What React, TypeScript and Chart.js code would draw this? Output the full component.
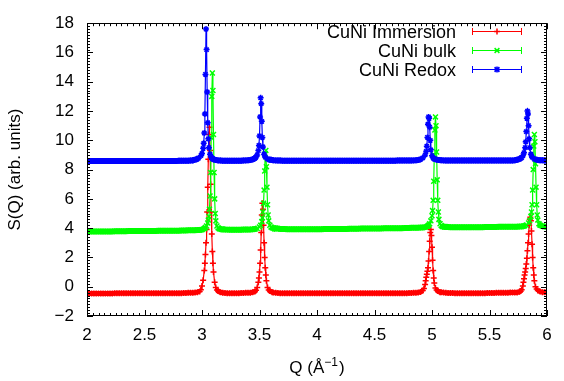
import React, { useEffect, useRef } from "react";
import { Chart, registerables } from "chart.js";

Chart.register(...registerables);

// ---------------- DATA ----------------
const SERIES_NAMES = ["CuNi Immersion", "CuNi bulk", "CuNi Redox"];
const X_TICKS = [2, 2.5, 3, 3.5, 4, 4.5, 5, 5.5, 6];
const Y_TICKS = [-2, 0, 2, 4, 6, 8, 10, 12, 14, 16, 18];

// Q sampling grid of the flat background (Å^-1)
const Q_BASE = [
  2.00, 2.02, 2.04, 2.06, 2.08, 2.10, 2.12, 2.14, 2.16, 2.18,
  2.20, 2.22, 2.24, 2.26, 2.28, 2.30, 2.32, 2.34, 2.36, 2.38,
  2.40, 2.42, 2.44, 2.46, 2.48, 2.50, 2.52, 2.54, 2.56, 2.58,
  2.60, 2.62, 2.64, 2.66, 2.68, 2.70, 2.72, 2.74, 2.76, 2.78,
  2.80, 2.82, 2.84, 2.86, 2.88, 2.90, 2.92, 2.94, 2.96, 2.98,
  3.00, 3.02, 3.04, 3.06, 3.08, 3.10, 3.12, 3.14, 3.16, 3.18,
  3.20, 3.22, 3.24, 3.26, 3.28, 3.30, 3.32, 3.34, 3.36, 3.38,
  3.40, 3.42, 3.44, 3.46, 3.48, 3.50, 3.52, 3.54, 3.56, 3.58,
  3.60, 3.62, 3.64, 3.66, 3.68, 3.70, 3.72, 3.74, 3.76, 3.78,
  3.80, 3.82, 3.84, 3.86, 3.88, 3.90, 3.92, 3.94, 3.96, 3.98,
  4.00, 4.02, 4.04, 4.06, 4.08, 4.10, 4.12, 4.14, 4.16, 4.18,
  4.20, 4.22, 4.24, 4.26, 4.28, 4.30, 4.32, 4.34, 4.36, 4.38,
  4.40, 4.42, 4.44, 4.46, 4.48, 4.50, 4.52, 4.54, 4.56, 4.58,
  4.60, 4.62, 4.64, 4.66, 4.68, 4.70, 4.72, 4.74, 4.76, 4.78,
  4.80, 4.82, 4.84, 4.86, 4.88, 4.90, 4.92, 4.94, 4.96, 4.98,
  5.00, 5.02, 5.04, 5.06, 5.08, 5.10, 5.12, 5.14, 5.16, 5.18,
  5.20, 5.22, 5.24, 5.26, 5.28, 5.30, 5.32, 5.34, 5.36, 5.38,
  5.40, 5.42, 5.44, 5.46, 5.48, 5.50, 5.52, 5.54, 5.56, 5.58,
  5.60, 5.62, 5.64, 5.66, 5.68, 5.70, 5.72, 5.74, 5.76, 5.78,
  5.80, 5.82, 5.84, 5.86, 5.88, 5.90, 5.92, 5.94, 5.96, 5.98,
  6.00,
];

// Background S(Q) of each sample on Q_BASE (points inside a peak window are replaced by the peak lists)
const IMMERSION_BASE = [
  -0.46, -0.46, -0.46, -0.46, -0.46, -0.46, -0.46, -0.46, -0.46, -0.46,
  -0.46, -0.46, -0.45, -0.45, -0.45, -0.45, -0.45, -0.45, -0.45, -0.45,
  -0.45, -0.45, -0.45, -0.45, -0.45, -0.45, -0.45, -0.45, -0.45, -0.45,
  -0.45, -0.45, -0.45, -0.45, -0.45, -0.45, -0.44, -0.44, -0.44, -0.44,
  -0.44, -0.44, -0.43, -0.43, -0.42, -0.42, -0.41, -0.40, -0.37, -0.32,
  0.05, 1.1, 3.9, 10.4, 5.1, 1.0, -0.05, -0.3, -0.38, -0.42,
  -0.43, -0.44, -0.44, -0.44, -0.44, -0.44, -0.44, -0.43, -0.43, -0.42,
  -0.42, -0.41, -0.38, -0.32, -0.05, 1.0, 4.9, 3.0, 0.4, -0.22,
  -0.35, -0.40, -0.42, -0.43, -0.44, -0.44, -0.44, -0.45, -0.45, -0.45,
  -0.45, -0.45, -0.45, -0.45, -0.45, -0.45, -0.45, -0.45, -0.45, -0.45,
  -0.45, -0.45, -0.45, -0.45, -0.45, -0.45, -0.45, -0.45, -0.45, -0.45,
  -0.45, -0.45, -0.45, -0.45, -0.45, -0.45, -0.45, -0.45, -0.45, -0.45,
  -0.45, -0.45, -0.45, -0.45, -0.45, -0.45, -0.45, -0.45, -0.45, -0.45,
  -0.45, -0.45, -0.45, -0.45, -0.45, -0.44, -0.44, -0.44, -0.44, -0.44,
  -0.43, -0.43, -0.42, -0.42, -0.40, -0.36, -0.26, 0.15, 1.05, 3.1,
  2.7, 0.25, -0.22, -0.33, -0.37, -0.40, -0.42, -0.43, -0.43, -0.43,
  -0.44, -0.44, -0.44, -0.44, -0.44, -0.44, -0.44, -0.44, -0.44, -0.44,
  -0.44, -0.44, -0.44, -0.44, -0.43, -0.43, -0.43, -0.43, -0.42, -0.42,
  -0.42, -0.42, -0.41, -0.41, -0.40, -0.40, -0.39, -0.39, -0.35, -0.2,
  0.55, 1.55, 3.6, 4.5, 1.3, 0.0, -0.25, -0.33, -0.37, -0.38,
  -0.38,
];

const BULK_BASE = [
  3.77, 3.77, 3.77, 3.78, 3.78, 3.78, 3.78, 3.78, 3.78, 3.78,
  3.78, 3.78, 3.79, 3.79, 3.79, 3.79, 3.79, 3.79, 3.80, 3.80,
  3.80, 3.80, 3.80, 3.80, 3.80, 3.81, 3.81, 3.81, 3.81, 3.81,
  3.81, 3.82, 3.82, 3.82, 3.82, 3.82, 3.83, 3.83, 3.83, 3.83,
  3.83, 3.84, 3.84, 3.84, 3.85, 3.85, 3.86, 3.86, 3.87, 3.87,
  3.90, 3.98, 4.15, 4.8, 10.2, 10.4, 4.5, 4.02, 3.95, 3.93,
  3.91, 3.90, 3.89, 3.89, 3.89, 3.89, 3.89, 3.89, 3.90, 3.90,
  3.90, 3.91, 3.92, 3.94, 3.98, 4.08, 4.45, 6.6, 8.2, 4.5,
  4.08, 4.04, 4.0, 3.97, 3.95, 3.94, 3.94, 3.93, 3.93, 3.93,
  3.93, 3.93, 3.93, 3.93, 3.93, 3.93, 3.93, 3.93, 3.93, 3.93,
  3.93, 3.93, 3.93, 3.94, 3.94, 3.94, 3.94, 3.94, 3.95, 3.95,
  3.95, 3.95, 3.95, 3.95, 3.96, 3.96, 3.96, 3.96, 3.96, 3.97,
  3.97, 3.97, 3.97, 3.97, 3.98, 3.98, 3.98, 3.98, 3.98, 3.99,
  3.99, 3.99, 3.99, 3.99, 4.00, 4.00, 4.00, 4.00, 4.01, 4.01,
  4.01, 4.02, 4.02, 4.03, 4.03, 4.04, 4.04, 4.07, 4.13, 4.3,
  4.85, 9.0, 9.2, 4.6, 4.18, 4.12, 4.09, 4.08, 4.07, 4.07,
  4.06, 4.06, 4.06, 4.06, 4.06, 4.06, 4.06, 4.07, 4.07, 4.07,
  4.07, 4.07, 4.07, 4.08, 4.08, 4.08, 4.08, 4.08, 4.08, 4.09,
  4.09, 4.09, 4.09, 4.09, 4.10, 4.10, 4.10, 4.10, 4.11, 4.12,
  4.15, 4.2, 4.35, 4.8, 8.0, 8.4, 4.55, 4.2, 4.14, 4.11,
  4.10,
];

const REDOX_BASE = [
  8.58, 8.58, 8.58, 8.58, 8.58, 8.58, 8.58, 8.58, 8.58, 8.58,
  8.58, 8.58, 8.58, 8.58, 8.58, 8.58, 8.58, 8.58, 8.58, 8.58,
  8.58, 8.58, 8.58, 8.58, 8.59, 8.59, 8.59, 8.59, 8.59, 8.59,
  8.59, 8.59, 8.59, 8.59, 8.59, 8.59, 8.59, 8.59, 8.59, 8.59,
  8.60, 8.60, 8.60, 8.61, 8.61, 8.62, 8.63, 8.66, 8.70, 8.78,
  9.1, 10.5, 16.2, 9.5, 8.85, 8.7, 8.65, 8.63, 8.62, 8.61,
  8.61, 8.60, 8.60, 8.60, 8.60, 8.60, 8.61, 8.61, 8.62, 8.63,
  8.64, 8.66, 8.70, 8.78, 9.0, 10.3, 11.3, 9.05, 8.85, 8.72,
  8.67, 8.64, 8.63, 8.62, 8.62, 8.61, 8.61, 8.61, 8.61, 8.61,
  8.61, 8.61, 8.61, 8.61, 8.61, 8.61, 8.61, 8.61, 8.61, 8.61,
  8.61, 8.61, 8.61, 8.61, 8.61, 8.61, 8.61, 8.61, 8.61, 8.61,
  8.61, 8.61, 8.61, 8.61, 8.61, 8.61, 8.61, 8.61, 8.61, 8.61,
  8.61, 8.61, 8.61, 8.61, 8.61, 8.61, 8.61, 8.61, 8.61, 8.61,
  8.61, 8.61, 8.61, 8.61, 8.61, 8.62, 8.62, 8.62, 8.62, 8.62,
  8.62, 8.62, 8.63, 8.64, 8.66, 8.70, 8.80, 9.0, 10.2, 10.9,
  8.95, 8.73, 8.68, 8.65, 8.64, 8.63, 8.62, 8.62, 8.62, 8.62,
  8.62, 8.62, 8.62, 8.62, 8.62, 8.62, 8.62, 8.62, 8.62, 8.62,
  8.62, 8.62, 8.62, 8.62, 8.62, 8.62, 8.62, 8.62, 8.62, 8.62,
  8.62, 8.62, 8.62, 8.62, 8.63, 8.63, 8.64, 8.67, 8.72, 8.82,
  9.15, 10.6, 11.0, 9.05, 8.72, 8.66, 8.65, 8.64, 8.64, 8.63,
  8.63,
];

// Finely sampled Bragg peaks [Q, S(Q)]
const IMMERSION_PEAKS: number[][][] = [
  [[2.94, -0.40], [2.96, -0.37], [2.98, -0.32], [2.99, -0.2], [3.00, 0.05], [3.01, 0.45], [3.02, 1.1],
   [3.025, 1.6], [3.03, 2.2], [3.035, 3.0], [3.04, 3.9], [3.045, 5.1], [3.05, 6.8], [3.055, 8.7],
   [3.06, 10.4], [3.065, 10.9], [3.07, 9.3], [3.075, 7.0], [3.08, 5.1], [3.085, 3.6], [3.09, 2.4],
   [3.095, 1.6], [3.10, 1.0], [3.11, 0.3], [3.12, -0.05], [3.13, -0.22], [3.14, -0.3], [3.16, -0.38]],
  [[3.42, -0.41], [3.44, -0.38], [3.46, -0.32], [3.47, -0.24], [3.48, -0.05], [3.49, 0.3], [3.495, 0.6],
   [3.50, 1.0], [3.505, 1.6], [3.51, 2.5], [3.515, 3.7], [3.52, 4.9], [3.525, 5.7], [3.53, 5.3],
   [3.535, 4.2], [3.54, 3.0], [3.545, 2.0], [3.55, 1.3], [3.555, 0.8], [3.56, 0.4], [3.57, -0.05],
   [3.58, -0.22], [3.59, -0.3], [3.61, -0.37]],
  [[4.88, -0.40], [4.90, -0.36], [4.92, -0.26], [4.93, -0.12], [4.94, 0.15], [4.945, 0.4], [4.95, 0.65],
   [4.955, 0.85], [4.96, 1.05], [4.965, 1.3], [4.97, 1.75], [4.975, 2.4], [4.98, 3.1], [4.985, 3.7],
   [4.99, 3.9], [4.995, 3.5], [5.00, 2.7], [5.005, 1.8], [5.01, 1.1], [5.015, 0.6], [5.02, 0.25],
   [5.03, -0.08], [5.04, -0.22], [5.05, -0.3], [5.07, -0.37]],
  [[5.74, -0.39], [5.76, -0.35], [5.77, -0.3], [5.78, -0.2], [5.79, 0.05], [5.795, 0.3], [5.80, 0.55],
   [5.805, 0.8], [5.81, 1.0], [5.815, 1.25], [5.82, 1.55], [5.825, 1.95], [5.83, 2.45], [5.835, 3.0],
   [5.84, 3.6], [5.845, 4.2], [5.85, 4.6], [5.855, 4.75], [5.86, 4.5], [5.865, 3.8], [5.87, 2.9],
   [5.875, 2.0], [5.88, 1.3], [5.885, 0.8], [5.89, 0.4], [5.90, 0.0], [5.91, -0.15], [5.92, -0.25],
   [5.94, -0.33], [5.96, -0.37]],
];

const BULK_PEAKS: number[][][] = [
  [[2.98, 3.87], [3.00, 3.9], [3.02, 3.98], [3.03, 4.05], [3.04, 4.15], [3.05, 4.35], [3.055, 4.55],
   [3.06, 4.8], [3.065, 5.3], [3.07, 6.2], [3.075, 7.8], [3.08, 10.2], [3.085, 13.0], [3.09, 14.6],
   [3.095, 13.4], [3.10, 10.4], [3.105, 7.8], [3.11, 6.0], [3.115, 5.0], [3.12, 4.5], [3.13, 4.15],
   [3.14, 4.02], [3.15, 3.96], [3.17, 3.92]],
  [[3.44, 3.92], [3.46, 3.94], [3.48, 3.98], [3.50, 4.08], [3.51, 4.2], [3.52, 4.45], [3.525, 4.7],
   [3.53, 5.1], [3.535, 5.7], [3.54, 6.6], [3.545, 7.9], [3.55, 9.1], [3.555, 9.3], [3.56, 8.2],
   [3.565, 6.8], [3.57, 5.6], [3.575, 4.9], [3.58, 4.5], [3.59, 4.2], [3.60, 4.08], [3.61, 4.02],
   [3.63, 3.96]],
  [[4.92, 4.04], [4.94, 4.07], [4.96, 4.13], [4.97, 4.2], [4.98, 4.3], [4.99, 4.5], [5.00, 4.85],
   [5.005, 5.2], [5.01, 5.9], [5.015, 7.2], [5.02, 9.0], [5.025, 10.7], [5.03, 11.6], [5.035, 11.0],
   [5.04, 9.2], [5.045, 7.3], [5.05, 5.9], [5.055, 5.1], [5.06, 4.6], [5.07, 4.3], [5.08, 4.18],
   [5.09, 4.12], [5.11, 4.08]],
  [[5.78, 4.12], [5.80, 4.15], [5.82, 4.2], [5.84, 4.35], [5.85, 4.5], [5.86, 4.8], [5.865, 5.1],
   [5.87, 5.6], [5.875, 6.6], [5.88, 8.0], [5.885, 9.6], [5.89, 10.4], [5.895, 9.9], [5.90, 8.4],
   [5.905, 6.8], [5.91, 5.6], [5.915, 4.9], [5.92, 4.55], [5.93, 4.3], [5.94, 4.2], [5.96, 4.14],
   [5.98, 4.11], [6.00, 4.1]],
];

const REDOX_PEAKS: number[][][] = [
  [[2.93, 8.66], [2.95, 8.7], [2.97, 8.78], [2.99, 8.95], [3.00, 9.1], [3.01, 9.45], [3.015, 9.8],
   [3.02, 10.5], [3.025, 11.8], [3.03, 14.5], [3.035, 17.6], [3.04, 16.2], [3.045, 13.3], [3.05, 11.2],
   [3.055, 10.1], [3.06, 9.5], [3.07, 9.05], [3.08, 8.85], [3.09, 8.76], [3.10, 8.7], [3.12, 8.65]],
  [[3.42, 8.66], [3.44, 8.7], [3.46, 8.78], [3.47, 8.86], [3.48, 9.0], [3.49, 9.3], [3.495, 9.65],
   [3.50, 10.3], [3.505, 11.6], [3.51, 12.9], [3.515, 12.5], [3.52, 11.3], [3.525, 10.2], [3.53, 9.55],
   [3.54, 9.05], [3.55, 8.85], [3.57, 8.72], [3.59, 8.67]],
  [[4.88, 8.66], [4.90, 8.7], [4.92, 8.8], [4.94, 9.0], [4.95, 9.25], [4.955, 9.6], [4.96, 10.2],
   [4.965, 11.1], [4.97, 11.6], [4.975, 11.5], [4.98, 10.9], [4.985, 10.0], [4.99, 9.35], [5.00, 8.95],
   [5.01, 8.8], [5.02, 8.73], [5.04, 8.68]],
  [[5.74, 8.67], [5.76, 8.72], [5.78, 8.82], [5.79, 8.95], [5.80, 9.15], [5.81, 9.5], [5.815, 9.9],
   [5.82, 10.6], [5.825, 11.5], [5.83, 12.0], [5.835, 11.8], [5.84, 11.0], [5.845, 10.1], [5.85, 9.5],
   [5.86, 9.05], [5.87, 8.85], [5.89, 8.72], [5.92, 8.66]],
];

const COLORS = ["#ff0000", "#00ff00", "#0000ff"];
const MARKERS = ["cross", "crossRot", "star"];

// ---------------- HELPERS ----------------
function buildSeries(baseQ: number[], baseS: number[], peaks: number[][][]) {
  const windows = peaks.map((p) => [p[0][0], p[p.length - 1][0]]);
  const pts: { x: number; y: number }[] = [];
  baseQ.forEach((q, i) => {
    if (!windows.some(([a, b]) => q >= a - 1e-9 && q <= b + 1e-9)) pts.push({ x: q, y: baseS[i] });
  });
  peaks.forEach((p) => p.forEach(([x, y]) => pts.push({ x, y })));
  pts.sort((a, b) => a.x - b.x);
  return pts;
}

const FONT = '"Liberation Sans", Arial, Helvetica, sans-serif';

function drawMarker(ctx: CanvasRenderingContext2D, style: string, x: number, y: number, r: number) {
  ctx.beginPath();
  if (style === "cross" || style === "star") {
    ctx.moveTo(x - r, y); ctx.lineTo(x + r, y);
    ctx.moveTo(x, y - r); ctx.lineTo(x, y + r);
  }
  if (style === "crossRot" || style === "star") {
    const d = r * 0.8;
    ctx.moveTo(x - d, y - d); ctx.lineTo(x + d, y + d);
    ctx.moveTo(x - d, y + d); ctx.lineTo(x + d, y - d);
  }
  ctx.stroke();
}

const decorPlugin = {
  id: "decor",
  afterDatasetsDraw(chart: any) {
    const { ctx, chartArea: a, scales } = chart;
    const xs = scales.x;
    const ys = scales.y;
    ctx.save();
    ctx.strokeStyle = "#000";
    ctx.lineWidth = 1;
    // frame
    ctx.strokeRect(Math.round(a.left) + 0.5, Math.round(a.top) + 0.5, Math.round(a.right - a.left) - 1, Math.round(a.bottom - a.top) - 1);
    // ticks (inward, mirrored), 10 minor intervals per major
    ctx.beginPath();
    for (let i = 0; i < X_TICKS.length; i++) {
      const v0 = X_TICKS[i];
      const v1 = X_TICKS[i + 1];
      const sub = v1 === undefined ? 1 : 10;
      for (let k = 0; k < sub; k++) {
        const v = v1 === undefined ? v0 : v0 + ((v1 - v0) * k) / 10;
        const px = Math.round(xs.getPixelForValue(v)) + 0.5;
        const len = k === 0 ? 6 : 3;
        ctx.moveTo(px, a.bottom); ctx.lineTo(px, a.bottom - len);
        ctx.moveTo(px, a.top); ctx.lineTo(px, a.top + len);
      }
    }
    for (let i = 0; i < Y_TICKS.length; i++) {
      const v0 = Y_TICKS[i];
      const v1 = Y_TICKS[i + 1];
      const sub = v1 === undefined ? 1 : 10;
      for (let k = 0; k < sub; k++) {
        const v = v1 === undefined ? v0 : v0 + ((v1 - v0) * k) / 10;
        const py = Math.round(ys.getPixelForValue(v)) + 0.5;
        const len = k === 0 ? 6 : 3;
        ctx.moveTo(a.left, py); ctx.lineTo(a.left + len, py);
        ctx.moveTo(a.right, py); ctx.lineTo(a.right - len, py);
      }
    }
    ctx.stroke();

    // legend
    const textRight = 456;
    const x0 = 472;
    const x1 = 522;
    const rows = [31.5, 50.5, 69.5];
    ctx.font = `18px ${FONT}`;
    ctx.textAlign = "right";
    ctx.textBaseline = "alphabetic";
    SERIES_NAMES.forEach((name, i) => {
      const yy = rows[i];
      ctx.fillStyle = "#000";
      ctx.fillText(name, textRight, yy + 6.5);
      ctx.strokeStyle = COLORS[i];
      ctx.lineWidth = 1;
      ctx.beginPath();
      ctx.moveTo(x0, yy); ctx.lineTo(x1, yy);
      ctx.moveTo(x0 + 0.5, yy - 3.5); ctx.lineTo(x0 + 0.5, yy + 3.5);
      ctx.moveTo(x1 - 0.5, yy - 3.5); ctx.lineTo(x1 - 0.5, yy + 3.5);
      ctx.stroke();
      ctx.lineWidth = 1.5;
      drawMarker(ctx, MARKERS[i], (x0 + x1) / 2, yy, 3);
    });

    // x-axis title with superscript
    const cx = (a.left + a.right) / 2;
    const base = 373;
    ctx.fillStyle = "#000";
    ctx.textAlign = "left";
    ctx.textBaseline = "alphabetic";
    ctx.font = `17px ${FONT}`;
    const p1 = "Q (Å";
    const p3 = ")";
    const w1 = ctx.measureText(p1).width;
    const w3 = ctx.measureText(p3).width;
    ctx.font = `12px ${FONT}`;
    const p2 = "−1";
    const w2 = ctx.measureText(p2).width;
    const start = cx - (w1 + w2 + w3 + 1) / 2;
    ctx.font = `17px ${FONT}`;
    ctx.fillText(p1, start, base);
    ctx.font = `12px ${FONT}`;
    ctx.fillText(p2, start + w1, base - 7);
    ctx.font = `17px ${FONT}`;
    ctx.fillText(p3, start + w1 + w2 + 1, base);
    ctx.restore();
  },
};

const BAND_WIDTH = [5, 6, 6];

export default function App() {
  const ref = useRef<HTMLCanvasElement | null>(null);
  useEffect(() => {
    if (!ref.current) return;
    const data = [
      buildSeries(Q_BASE, IMMERSION_BASE, IMMERSION_PEAKS),
      buildSeries(Q_BASE, BULK_BASE, BULK_PEAKS),
      buildSeries(Q_BASE, REDOX_BASE, REDOX_PEAKS),
    ];
    const chart = new Chart(ref.current, {
      type: "scatter",
      data: {
        datasets: data.map((d, i) => ({
          label: SERIES_NAMES[i],
          data: d,
          showLine: true,
          borderColor: COLORS[i],
          backgroundColor: COLORS[i],
          borderWidth: 1.2,
          // dense overlapping markers on the flat background form a solid band
          segment: {
            borderWidth: (c: any) =>
              Math.abs(c.p1.parsed.y - c.p0.parsed.y) < 0.1 ? BAND_WIDTH[i] : 1.2,
          },
          pointStyle: MARKERS[i] as any,
          pointRadius: i === 1 ? 3.5 : 3,
          pointBorderWidth: 1.5,
          pointBorderColor: COLORS[i],
          order: 3 - i,
        })),
      },
      options: {
        responsive: false,
        animation: false,
        devicePixelRatio: 1,
        layout: { padding: { top: 18, right: 17, left: 0, bottom: 0 } },
        plugins: { legend: { display: false }, tooltip: { enabled: false } },
        scales: {
          x: {
            type: "linear",
            min: 2,
            max: 6,
            afterFit: (s: any) => { s.height = 65; },
            afterBuildTicks: (s: any) => { s.ticks = X_TICKS.map((v) => ({ value: v })); },
            grid: { display: false, drawTicks: false },
            border: { display: false },
            ticks: {
              color: "#000",
              font: { family: FONT, size: 17 },
              padding: 9,
              maxRotation: 0,
              callback: (v: any) => String(v),
            },
          },
          y: {
            type: "linear",
            min: -2,
            max: 18,
            afterFit: (s: any) => { s.width = 87; },
            afterBuildTicks: (s: any) => { s.ticks = Y_TICKS.map((v) => ({ value: v })); },
            grid: { display: false, drawTicks: false },
            border: { display: false },
            ticks: {
              color: "#000",
              font: { family: FONT, size: 17 },
              padding: 13,
              callback: (v: any) => String(v).replace("-", "−"),
            },
            title: {
              display: true,
              text: "S(Q) (arb. units)",
              color: "#000",
              font: { family: FONT, size: 17 },
              padding: { top: 5, bottom: 0 },
            },
          },
        },
      },
      plugins: [decorPlugin],
    });
    return () => chart.destroy();
  }, []);
  return (
    <div style={{ position: "fixed", left: 0, top: 0, width: 564, height: 381, background: "#fff" }}>
      <canvas ref={ref} width={564} height={381} style={{ width: 564, height: 381, display: "block" }} />
    </div>
  );
}
